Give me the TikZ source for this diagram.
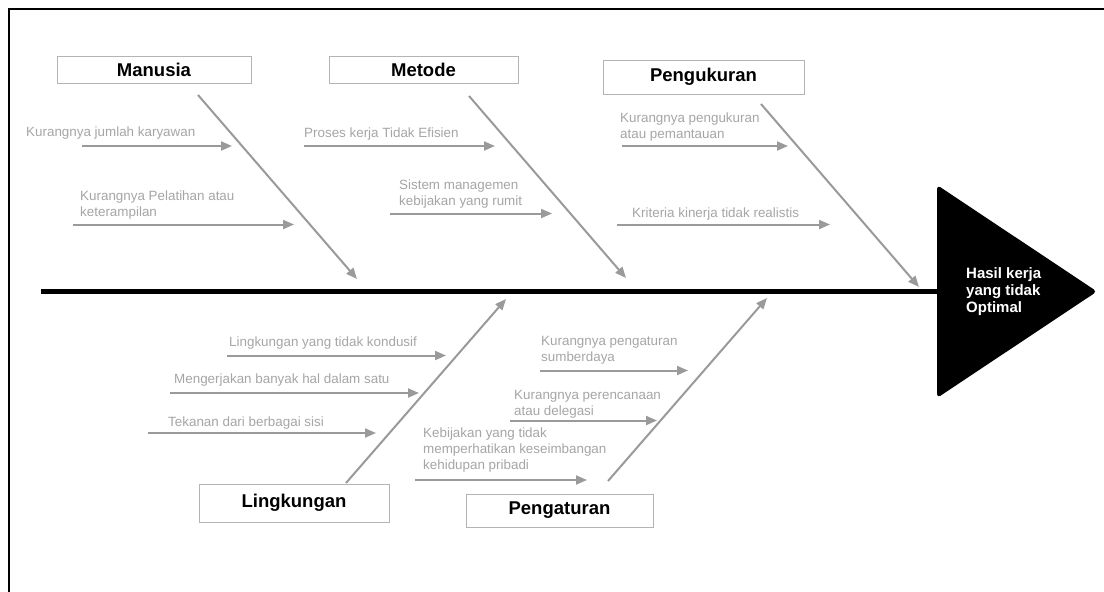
\documentclass[tikz,border=0pt]{standalone}
\usepackage{fontspec}
\setmainfont{Liberation Sans}
\usetikzlibrary{arrows.meta}
\definecolor{arrgray}{HTML}{9A9A9A}
\definecolor{txtgray}{HTML}{A6A6A6}
\definecolor{boxgray}{HTML}{B4B4B4}
\begin{document}
\begin{tikzpicture}[x=1pt,y=-1pt,
  causebox/.style={draw=boxgray,line width=1pt,inner sep=0pt,text=black,
    font=\fontsize{18.5}{20}\selectfont\bfseries},
  lbl/.style={anchor=north west,inner sep=0pt,align=left,text=txtgray,
    font=\fontsize{13.4}{16}\selectfont},
  branch/.style={draw=arrgray,line width=2pt,-{Triangle[length=11pt,width=9pt]}},
  spine/.style={draw=black,line width=5.5pt},
]
\useasboundingbox (0,0) rectangle (1104,592);
\fill[white] (0,0) rectangle (1104,592);
% frame
\draw[line width=2.5pt] (9,592) -- (9,9) -- (1104,9);

% head
\fill[black,rounded corners=4pt] (937,185) -- (1097,291.5) -- (937,398) -- cycle;
\node[anchor=north west,inner sep=0pt,align=left,text=white,
  font=\fontsize{15}{17}\selectfont\bfseries] (hasil) at (966,267.5)
  {Hasil kerja\\yang tidak\\Optimal};

% spine
\coordinate (spineL) at (41,291.5);
\coordinate (head) at (937,291.5);
\draw[spine] (spineL) -- (head);

% category boxes
\node[causebox,minimum width=194pt,minimum height=27pt] (manusia) at (154,69.5) {Manusia};
\node[causebox,minimum width=189pt,minimum height=27pt] (metode) at (423.5,69.5) {Metode};
\node[causebox,minimum width=201pt,minimum height=34pt] (pengukuran) at (703.5,77) {Pengukuran};
\node[causebox,minimum width=190pt,minimum height=38pt] (lingkungan) at (294,503) {Lingkungan};
\node[causebox,minimum width=187pt,minimum height=33pt] (pengaturan) at (559.5,510.5) {Pengaturan};

% main bones
\coordinate (d1s) at (198,95);  \coordinate (d1e) at (357,279);
\coordinate (d2s) at (469,96);  \coordinate (d2e) at (626,278);
\coordinate (d3s) at (761,104); \coordinate (d3e) at (919,287);
\coordinate (d4s) at (346,483); \coordinate (d4e) at (506,299);
\coordinate (d5s) at (608,481); \coordinate (d5e) at (767,298);
\draw[branch] (d1s) -- (d1e);
\draw[branch] (d2s) -- (d2e);
\draw[branch] (d3s) -- (d3e);
\draw[branch] (d4s) -- (d4e);
\draw[branch] (d5s) -- (d5e);

% labels
\node[lbl] (l1) at (26,126.4) {Kurangnya jumlah karyawan};
\node[lbl] (l2) at (80,190.4) {Kurangnya Pelatihan atau\\keterampilan};
\node[lbl] (l3) at (304,127.4) {Proses kerja Tidak Efisien};
\node[lbl] (l4) at (399,179.4) {Sistem managemen\\kebijakan yang rumit};
\node[lbl] (l5) at (620,112.4) {Kurangnya pengukuran\\atau pemantauan};
\node[lbl] (l6) at (632,207.4) {Kriteria kinerja tidak realistis};
\node[lbl] (l7) at (229,336.4) {Lingkungan yang tidak kondusif};
\node[lbl] (l8) at (174,373.4) {Mengerjakan banyak hal dalam satu};
\node[lbl] (l9) at (168,416.4) {Tekanan dari berbagai sisi};
\node[lbl] (l10) at (541,336.4) {Kurangnya pengaturan\\sumberdaya};
\node[lbl] (l11) at (514,390.4) {Kurangnya perencanaan\\atau delegasi};
\node[lbl] (l12) at (423,427.4) {Kebijakan yang tidak\\memperhatikan keseimbangan\\kehidupan pribadi};

% sub-cause arrows
\coordinate (a1s) at (82,146);   \coordinate (a1e) at (232,146);
\coordinate (a2s) at (73,224.5); \coordinate (a2e) at (294,224.5);
\coordinate (a3s) at (304,146);  \coordinate (a3e) at (495,146);
\coordinate (a4s) at (390,213.5);\coordinate (a4e) at (552,213.5);
\coordinate (a5s) at (622,146);  \coordinate (a5e) at (788,146);
\coordinate (a6s) at (617,224.5);\coordinate (a6e) at (830,224.5);
\coordinate (a7s) at (227,355.5);\coordinate (a7e) at (446,355.5);
\coordinate (a8s) at (170,393);  \coordinate (a8e) at (419,393);
\coordinate (a9s) at (148,433);  \coordinate (a9e) at (376,433);
\coordinate (a10s) at (540,370.5);\coordinate (a10e) at (688,370.5);
\coordinate (a11s) at (510,420.5);\coordinate (a11e) at (657,420.5);
\coordinate (a12s) at (415,480); \coordinate (a12e) at (587,480);
\foreach \i in {1,...,12} { \draw[branch] (a\i s) -- (a\i e); }
\end{tikzpicture}
\end{document}
